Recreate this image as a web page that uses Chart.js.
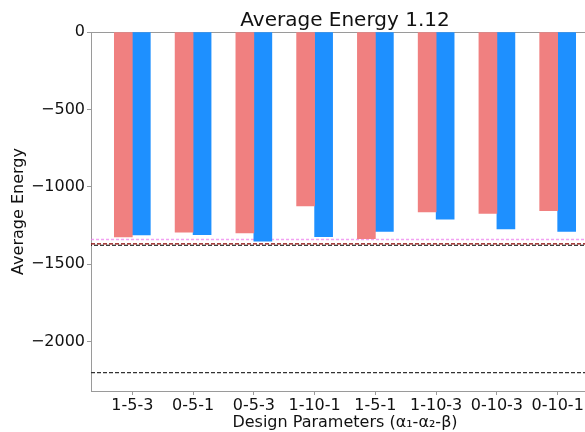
<!DOCTYPE html>
<html>
<head>
<meta charset="utf-8">
<script src="https://cdn.jsdelivr.net/npm/chart.js@4/dist/chart.umd.min.js"></script>
<style>
  html, body { margin: 0; padding: 0; background: #fff; overflow: hidden; }
  #wrap { position: relative; width: 620px; height: 432px; }
</style>
</head>
<body>
<div id="wrap"><canvas id="c"></canvas></div>
<script>
// ---- data ----
const categories = ['1-5-3', '0-5-1', '0-5-3', '1-10-1', '1-5-1', '1-10-3', '0-10-3', '0-10-1'];
const redValues  = [-1323, -1293, -1297, -1123, -1334, -1161, -1172, -1153];
const blueValues = [-1310, -1308, -1351, -1321, -1288, -1209, -1271, -1288];
const refPink  = -1340;
const refRed   = -1368;
const refBlack = -1377;
const refLow   = -2200;
const yTicks = [0, -500, -1000, -1500, -2000];
const chartTitle = 'Average Energy 1.12';
const xTitle = 'Design Parameters (α\u2081-α\u2082-β)';
const yTitle = 'Average Energy';

// ---- axis ranges ----
const X_MIN = -0.68, X_MAX = 7.68;
const Y_MIN = -2318, Y_MAX = 0;

const FONT = 'DejaVu Sans';
const SPINE = '#9a9a9a';
const TEXT = '#111';

const barData = vals => vals.map((v, i) => ({ x: i, y: v }));
const hLine = v => [{ x: X_MIN, y: v }, { x: X_MAX, y: v }];
const lineDs = (v, color, dash, width, offset) => ({
  type: 'line', data: hLine(v), borderColor: color, borderWidth: width,
  borderDash: dash, borderDashOffset: offset || 0, pointRadius: 0, fill: false, order: 5
});

new Chart(document.getElementById('c'), {
  type: 'bar',
  data: {
    datasets: [
      { data: barData(redValues),  backgroundColor: '#F08080', borderWidth: 0, order: 1 },
      { data: barData(blueValues), backgroundColor: '#1E90FF', borderWidth: 0, order: 1 },
      lineDs(refPink,  'rgba(238,130,238,0.75)', [3, 2], 1.5),
      lineDs(refRed,   '#8B0000', [4, 2], 1.2),
      lineDs(refBlack, '#000000', [4, 2], 1.2, 3),
      lineDs(refLow,   '#333333', [4, 2], 1.2)
    ]
  },
  options: {
    responsive: true,
    maintainAspectRatio: false,
    animation: false,
    layout: { padding: { left: 0, right: 21, top: 0, bottom: 0 } },
    datasets: { bar: { barThickness: 18, grouped: true } },
    plugins: {
      legend: { display: false },
      tooltip: { enabled: false },
      title: {
        display: true, text: chartTitle, fullSize: false, color: TEXT,
        font: { family: FONT, size: 20, weight: 'normal', lineHeight: 1 },
        padding: { top: 11, bottom: 1 }
      }
    },
    scales: {
      x: {
        type: 'linear', min: X_MIN, max: X_MAX, offset: false,
        afterFit: s => { s.height = 41; },
        afterBuildTicks: s => { s.ticks = categories.map((_, i) => ({ value: i })); },
        ticks: {
          color: TEXT, font: { family: FONT, size: 16 }, padding: 1, maxRotation: 0,
          autoSkip: false,
          callback: v => categories[v]
        },
        grid: { display: true, drawOnChartArea: false, drawTicks: true, tickLength: 4, tickColor: SPINE, offset: false },
        border: { display: true, color: SPINE, width: 1 },
        title: { display: true, text: xTitle, color: TEXT, font: { family: FONT, size: 16 }, padding: { top: 0, bottom: 0 } }
      },
      y: {
        type: 'linear', min: Y_MIN, max: Y_MAX,
        afterFit: s => { s.width = 91; },
        afterBuildTicks: s => { s.ticks = yTicks.map(v => ({ value: v })); },
        ticks: {
          color: TEXT, font: { family: FONT, size: 16 }, padding: 2,
          callback: v => (v < 0 ? '\u2212' : '') + Math.abs(v)
        },
        grid: {
          display: true, drawOnChartArea: true, drawTicks: true, tickLength: 4, tickColor: SPINE,
          color: c => (c.tick && c.tick.value === 0) ? SPINE : 'rgba(0,0,0,0)'
        },
        border: { display: true, color: SPINE, width: 1 },
        title: { display: true, text: yTitle, color: TEXT, font: { family: FONT, size: 16 }, padding: { top: 9, bottom: 0 } }
      }
    }
  }
});
</script>
</body>
</html>
